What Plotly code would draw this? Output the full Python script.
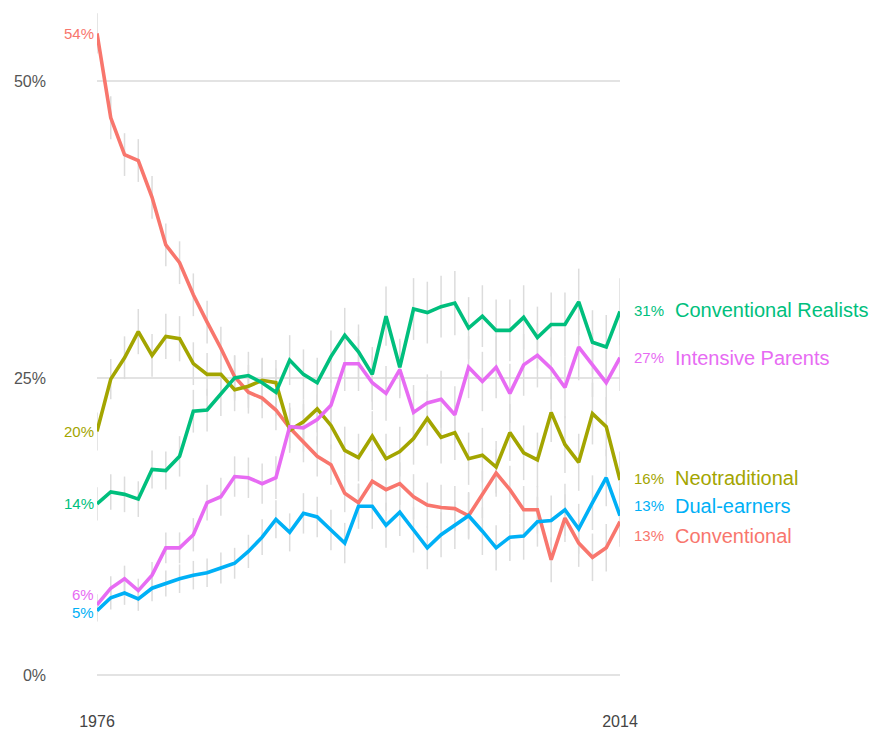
import plotly.graph_objects as go

years = list(range(1976, 2015))

conventional = [54.0, 46.9, 43.8, 43.3, 40.2, 36.2, 34.7, 32.0, 29.7, 27.5,
                25.1, 23.8, 23.3, 22.3, 20.8, 19.6, 18.4, 17.7, 15.3, 14.5,
                16.3, 15.6, 16.1, 15.0, 14.3, 14.1, 14.0, 13.4, 15.2, 17.0,
                15.6, 13.9, 13.9, 9.7, 13.2, 11.1, 9.9, 10.7, 12.9]
realists = [14.4, 15.4, 15.2, 14.8, 17.3, 17.2, 18.4, 22.2, 22.3, 23.7,
            25.0, 25.2, 24.6, 23.8, 26.5, 25.3, 24.6, 26.8, 28.6, 27.2,
            25.3, 30.2, 25.9, 30.8, 30.5, 31.0, 31.3, 29.2, 30.2, 29.0,
            29.0, 30.1, 28.4, 29.5, 29.5, 31.4, 28.0, 27.6, 30.6]
neotraditional = [20.5, 24.9, 26.7, 28.9, 26.9, 28.5, 28.3, 26.2, 25.3, 25.3,
                  24.0, 24.3, 24.8, 24.6, 20.6, 21.3, 22.4, 21.0, 18.9, 18.3,
                  20.1, 18.2, 18.8, 19.9, 21.6, 20.0, 20.4, 18.2, 18.5, 17.5,
                  20.4, 18.7, 18.1, 22.1, 19.4, 17.9, 22.0, 20.9, 16.4]
intensive = [5.9, 7.3, 8.1, 7.1, 8.4, 10.7, 10.7, 11.8, 14.5, 15.0,
             16.7, 16.6, 16.1, 16.6, 20.9, 20.8, 21.5, 22.7, 26.2, 26.2,
             24.6, 23.7, 25.7, 22.1, 22.9, 23.2, 21.9, 25.9, 24.7, 25.9,
             23.7, 26.1, 26.9, 25.8, 24.2, 27.6, 26.1, 24.6, 26.7]
dual = [5.4, 6.5, 6.9, 6.4, 7.3, 7.7, 8.1, 8.4, 8.6, 9.0,
        9.4, 10.4, 11.6, 13.1, 12.0, 13.6, 13.3, 12.2, 11.1, 14.2,
        14.2, 12.6, 13.7, 12.2, 10.7, 11.8, 12.6, 13.4, 12.1, 10.7,
        11.6, 11.7, 12.9, 13.0, 13.9, 12.3, 14.5, 16.6, 13.4]

# estimated half-widths of the grey confidence bars (percentage points)
conventional_err = [1.7, 1.8, 1.8, 1.8, 1.8, 1.8, 1.8, 1.8, 1.8, 1.8,
                    1.8, 1.8, 1.7, 1.7, 1.7, 1.7, 1.7, 1.7, 1.6, 1.6,
                    1.8, 1.8, 1.8, 1.9, 1.9, 1.9, 1.9, 1.9, 2.0, 2.0,
                    2.0, 2.0, 2.0, 1.9, 2.0, 2.0, 2.0, 2.0, 2.1]
realists_err = [1.4, 1.5, 1.5, 1.5, 1.6, 1.6, 1.7, 1.8, 1.8, 1.9,
                1.9, 2.0, 2.0, 2.0, 2.1, 2.1, 2.1, 2.2, 2.3, 2.3,
                2.3, 2.5, 2.4, 2.6, 2.6, 2.6, 2.7, 2.6, 2.6, 2.6,
                2.6, 2.7, 2.6, 2.7, 2.7, 2.8, 2.7, 2.7, 2.8]
neotraditional_err = [1.6, 1.7, 1.8, 1.9, 1.8, 1.9, 1.9, 1.8, 1.8, 1.8,
                      1.8, 1.8, 1.9, 1.9, 1.9, 1.9, 2.0, 2.0, 2.0, 2.0,
                      2.1, 2.1, 2.1, 2.2, 2.3, 2.2, 2.3, 2.2, 2.3, 2.2,
                      2.4, 2.3, 2.3, 2.5, 2.4, 2.4, 2.6, 2.5, 2.4]
intensive_err = [0.9, 1.0, 1.1, 1.0, 1.1, 1.3, 1.3, 1.4, 1.5, 1.6,
                 1.7, 1.7, 1.7, 1.8, 2.0, 2.0, 2.1, 2.1, 2.3, 2.3,
                 2.3, 2.3, 2.4, 2.3, 2.4, 2.4, 2.4, 2.6, 2.5, 2.6,
                 2.5, 2.6, 2.7, 2.6, 2.6, 2.8, 2.7, 2.7, 2.8]
dual_err = [0.9, 1.0, 1.0, 1.0, 1.1, 1.1, 1.2, 1.2, 1.2, 1.3,
            1.3, 1.4, 1.5, 1.6, 1.6, 1.7, 1.7, 1.7, 1.7, 1.9,
            1.9, 1.9, 2.0, 1.9, 1.8, 1.9, 2.0, 2.0, 2.0, 1.9,
            2.0, 2.0, 2.1, 2.1, 2.2, 2.1, 2.3, 2.4, 2.3]

names = ["Conventional", "Neotraditional", "Conventional Realists", "Dual-earners", "Intensive Parents"]
values = [conventional, neotraditional, realists, dual, intensive]
errors = [conventional_err, neotraditional_err, realists_err, dual_err, intensive_err]
colors = ["#F8766D", "#A3A500", "#00BF7D", "#00B0F6", "#E76BF3"]
# pixel nudges for the end labels (like a label repeller)
start_shift = [0, 0, 0, -2, 10]
end_shift = [-14, 2, 1, 10, 0]

y_ticks = [0, 25, 50]
y_tick_text = ["0%", "25%", "50%"]
x_ticks = [1976, 2014]

FONT = "Liberation Sans, Arial, sans-serif"

fig = go.Figure()

# confidence bars first, so the lines sit on top of them
for vals, err in zip(values, errors):
    fig.add_trace(go.Scatter(
        x=years, y=vals, mode="markers",
        marker=dict(size=1, color="rgba(0,0,0,0)"),
        error_y=dict(type="data", array=err, symmetric=True,
                     color="#dcdcdc", thickness=1.5, width=0),
        cliponaxis=False, showlegend=False, hoverinfo="skip"))

for name, vals, col in zip(names, values, colors):
    fig.add_trace(go.Scatter(
        x=years, y=vals, mode="lines", name=name,
        line=dict(color=col, width=3.6),
        cliponaxis=False, showlegend=False))

annotations = []
for name, vals, col, s0, s1 in zip(names, values, colors, start_shift, end_shift):
    annotations.append(dict(
        x=years[0], y=vals[0], xref="x", yref="y",
        text=f"{round(vals[0])}%", showarrow=False,
        xanchor="right", yanchor="middle", xshift=-1, yshift=s0,
        font=dict(family=FONT, size=15, color=col)))
    annotations.append(dict(
        x=years[-1], y=vals[-1], xref="x", yref="y",
        text=f"{int(vals[-1])}%" if name == "Neotraditional" else f"{round(vals[-1])}%",
        showarrow=False,
        xanchor="left", yanchor="middle", xshift=12, yshift=s1,
        font=dict(family=FONT, size=15, color=col)))
    annotations.append(dict(
        x=years[-1], y=vals[-1], xref="x", yref="y",
        text=name, showarrow=False,
        xanchor="left", yanchor="middle", xshift=53, yshift=s1,
        font=dict(family=FONT, size=20, color=col)))

fig.update_layout(
    width=881, height=740,
    margin=dict(l=89, r=269, t=2, b=38),
    paper_bgcolor="white", plot_bgcolor="white",
    font=dict(family=FONT, size=16, color="#555555"),
    showlegend=False,
    annotations=annotations,
    xaxis=dict(range=[years[0], years[-1]], tickvals=x_ticks,
               ticktext=[str(v) for v in x_ticks],
               showgrid=False, zeroline=False, showline=False, ticks="",
               tickfont=dict(family=FONT, size=16, color="#444444")),
    yaxis=dict(range=[-2.95, 55.97], tickvals=y_ticks, ticktext=y_tick_text,
               showgrid=True, gridcolor="#e3e3e3", gridwidth=1.5,
               zeroline=False, showline=False, ticks="",
               ticklabelstandoff=50,
               tickfont=dict(family=FONT, size=16, color="#555555")),
)

fig.write_html("out.html")
